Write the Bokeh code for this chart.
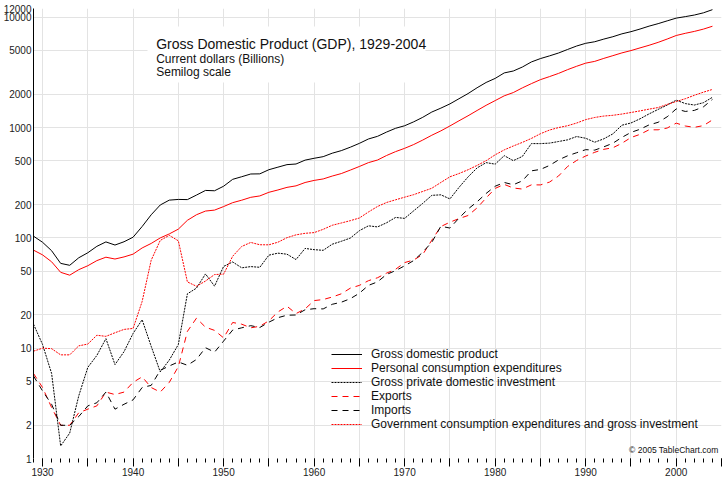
import math
from bokeh.plotting import figure
from bokeh.models import (Range1d, FixedTicker, NumeralTickFormatter, CustomJSTickFormatter,
                          Legend, LegendItem, Label, BoxAnnotation)
from bokeh.embed import file_html
from bokeh.resources import INLINE

# ---------------- data (billions of current dollars) ----------------
years = list(range(1929, 2005))

gdp = [103.6, 91.2, 76.5, 58.7, 56.4, 66.0, 73.3, 83.8, 91.9, 86.1, 92.2,          # 1929-1939
       101.4, 126.7, 161.9, 198.6, 219.8, 223.1, 222.3, 244.2, 269.2, 267.3,       # 1940-1949
       293.8, 339.3, 358.3, 379.3, 380.4, 414.8, 437.5, 461.1, 467.2, 506.6,       # 1950-1959
       526.4, 544.7, 585.6, 617.7, 663.6, 719.1, 787.8, 832.6, 910.0, 984.6,       # 1960-1969
       1038.5, 1127.1, 1238.3, 1382.7, 1500.0, 1638.3, 1825.3, 2030.9, 2294.7, 2563.3,  # 1970-1979
       2789.5, 3128.4, 3255.0, 3536.7, 3933.2, 4220.3, 4462.8, 4739.5, 5103.8, 5484.4,  # 1980-1989
       5803.1, 5995.9, 6337.7, 6657.4, 7072.2, 7397.7, 7816.9, 8304.3, 8747.0, 9268.4,  # 1990-1999
       9817.0, 10128.0, 10469.6, 10960.8, 11712.5]                                  # 2000-2004

pce = [77.4, 70.1, 60.7, 48.7, 45.9, 51.5, 55.9, 62.2, 66.8, 64.3, 67.2,
       71.2, 81.0, 89.0, 99.9, 108.6, 120.0, 144.3, 162.0, 175.0, 178.5,
       192.2, 208.5, 219.5, 233.1, 240.0, 258.8, 271.7, 286.9, 296.2, 317.6,
       331.7, 342.1, 363.3, 382.7, 411.5, 443.8, 480.9, 507.8, 558.0, 605.1,
       648.3, 701.6, 770.2, 852.0, 932.9, 1033.8, 1151.3, 1277.8, 1427.6, 1591.2,
       1755.8, 1939.5, 2075.5, 2288.6, 2501.1, 2717.6, 2896.7, 3097.0, 3350.1, 3594.5,
       3835.5, 3980.1, 4236.9, 4483.6, 4750.8, 4987.3, 5273.6, 5570.6, 5918.5, 6342.8,
       6830.4, 7148.8, 7439.2, 7804.0, 8285.1]

investment = [16.5, 10.8, 5.9, 1.3, 1.7, 3.7, 6.7, 8.6, 12.2, 7.1, 9.3,
              13.6, 18.1, 10.4, 6.1, 7.8, 10.8, 31.1, 35.0, 47.1, 36.5,
              55.1, 60.5, 53.5, 54.9, 54.1, 69.7, 72.7, 71.1, 63.6, 80.2,
              78.2, 77.1, 87.6, 93.1, 99.6, 116.2, 128.6, 125.7, 137.0, 153.2,
              150.2, 176.0, 205.6, 242.9, 245.6, 225.4, 286.6, 356.6, 430.8, 480.9,
              465.9, 556.2, 501.1, 547.1, 715.6, 715.1, 722.5, 747.2, 773.9, 829.2,
              799.7, 736.2, 790.4, 876.2, 1050.0, 1100.0, 1200.0, 1330.0, 1460.0, 1600.0,
              1770.0, 1650.0, 1600.0, 1680.0, 1880.0]

exports = [5.9, 4.4, 2.9, 2.0, 2.0, 2.6, 2.8, 3.0, 4.0, 3.8, 4.0,
           4.9, 5.5, 4.4, 4.0, 4.9, 6.8, 14.2, 18.7, 15.5, 14.5,
           12.4, 17.1, 16.5, 15.3, 15.8, 17.7, 21.3, 24.0, 20.6, 22.7,
           27.0, 27.6, 29.1, 31.1, 35.0, 37.1, 40.9, 43.5, 47.9, 51.9,
           59.7, 63.0, 70.8, 95.3, 126.7, 138.7, 149.5, 159.4, 186.9, 230.1,
           280.8, 305.2, 283.2, 277.0, 302.4, 302.0, 320.3, 363.8, 443.9, 503.1,
           552.1, 596.6, 635.0, 655.6, 720.7, 811.9, 867.7, 954.4, 953.9, 989.8,
           1096.3, 1032.8, 1005.0, 1040.8, 1173.8]

imports = [5.6, 4.1, 3.1, 2.0, 2.0, 2.4, 3.0, 3.2, 4.0, 2.8, 3.1,
           3.4, 4.4, 4.6, 6.3, 6.9, 7.5, 7.0, 7.9, 10.1, 9.2,
           11.6, 14.6, 15.3, 16.0, 15.4, 17.2, 18.9, 19.9, 20.0, 22.3,
           22.8, 22.7, 25.0, 26.1, 28.1, 31.5, 37.1, 39.9, 46.6, 50.5,
           55.8, 62.3, 74.2, 91.2, 127.5, 122.7, 151.1, 182.4, 212.3, 252.7,
           293.8, 317.8, 303.2, 328.6, 405.1, 417.2, 453.3, 509.1, 554.5, 591.5,
           630.3, 624.3, 668.6, 720.9, 814.5, 903.6, 964.8, 1056.9, 1115.9, 1251.7,
           1475.8, 1399.8, 1430.3, 1540.2, 1797.8]

government = [9.4, 10.0, 9.9, 8.7, 8.7, 10.5, 10.9, 13.1, 12.8, 13.8, 14.8,
              15.1, 26.5, 62.7, 94.8, 105.4, 94.0, 39.9, 36.4, 40.6, 46.5,
              46.9, 68.1, 83.6, 90.9, 86.6, 86.5, 91.3, 100.4, 106.5, 110.0,
              111.6, 119.5, 130.1, 136.4, 143.2, 151.4, 171.6, 192.5, 209.3, 221.4,
              233.8, 246.5, 263.5, 281.7, 317.9, 357.7, 383.0, 414.1, 453.6, 500.8,
              566.2, 627.5, 680.5, 733.5, 797.0, 879.0, 949.3, 999.5, 1039.0, 1099.1,
              1180.2, 1234.4, 1271.0, 1291.2, 1325.5, 1369.2, 1416.0, 1468.7, 1518.3, 1620.8,
              1721.6, 1825.6, 1961.1, 2092.5, 2215.9]

series_labels = ["Gross domestic product",
                 "Personal consumption expenditures",
                 "Gross private domestic investment",
                 "Exports",
                 "Imports",
                 "Government consumption expenditures and gross investment"]

y_ticks = [1, 2, 5, 10, 20, 50, 100, 200, 500, 1000, 2000, 5000, 10000, 12000]
x_major = list(range(1930, 2006, 5))
x_minor = list(range(1929, 2006))

title_lines = ["Gross Domestic Product (GDP), 1929-2004",
               "Current dollars (Billions)",
               "Semilog scale"]
credit = "\u00a9 2005 TableChart.com"

# ---------------- layout helpers (page pixel -> data coords) ----------------
FONT = "Liberation Sans"
X_START, X_END = 1929, 2005
Y_MIN, Y_MAX = 1, 12000
FR_LEFT, FR_RIGHT, FR_TOP, FR_BOTTOM = 33.0, 721.0, 8.0, 458.0


def yr(px):
    return X_START + (px - FR_LEFT) * (X_END - X_START) / (FR_RIGHT - FR_LEFT)


def val(py):
    return 10 ** (math.log10(Y_MAX) * (FR_BOTTOM - py) / (FR_BOTTOM - FR_TOP))


p = figure(width=728, height=480, output_backend="svg", toolbar_location=None,
           x_range=Range1d(X_START, X_END), y_range=Range1d(Y_MIN, Y_MAX),
           y_axis_type="log",
           min_border_left=31, min_border_right=7, min_border_top=8, min_border_bottom=22)
p.outline_line_color = None
p.background_fill_color = "white"
p.border_fill_color = "white"

# axes
xa = p.xaxis[0]
xa.ticker = FixedTicker(ticks=x_major, minor_ticks=x_minor)
xa.formatter = CustomJSTickFormatter(code="return (tick % 10 == 0) ? String(tick) : ''")
xa.axis_line_color = None
xa.major_tick_in = 0
xa.major_tick_out = 8
xa.minor_tick_in = 0
xa.minor_tick_out = 4
xa.major_tick_line_color = "black"
xa.minor_tick_line_color = "black"
xa.major_label_standoff = 1
xa.major_label_text_font = FONT
xa.major_label_text_font_size = "10px"
xa.major_label_text_color = "#222222"

ya = p.yaxis[0]
ya.ticker = FixedTicker(ticks=y_ticks, minor_ticks=[])
ya.formatter = NumeralTickFormatter(format="0")
ya.axis_line_color = "black"
ya.axis_line_width = 1
ya.major_tick_line_color = None
ya.minor_tick_line_color = None
ya.major_tick_out = 0
ya.major_tick_in = 0
ya.minor_tick_out = 0
ya.minor_tick_in = 0
ya.major_label_standoff = 2
ya.major_label_text_font = FONT
ya.major_label_text_font_size = "10px"
ya.major_label_text_color = "#222222"

p.grid.grid_line_color = "#e3e3e3"
p.grid.grid_line_width = 1

# series
styles = [
    (gdp, "black", "solid"),
    (pce, "red", "solid"),
    (investment, "black", "2 1"),
    (exports, "red", "6 5"),
    (imports, "black", "6 5"),
    (government, "red", "2 1"),
]
renderers = []
for data, color, dash in styles:
    r = p.line(years, data, line_color=color, line_width=1, line_dash=dash)
    renderers.append(r)

legend = Legend(items=[LegendItem(label=lab, renderers=[r]) for lab, r in zip(series_labels, renderers)],
                location=(331 - FR_LEFT, FR_BOTTOM - 431),
                label_text_font=FONT, label_text_font_size="12px", label_text_color="#111111",
                glyph_width=31, glyph_height=14, label_height=14, label_standoff=9,
                spacing=0, padding=0, margin=0,
                border_line_color=None, background_fill_alpha=0)
p.add_layout(legend)

# white panel behind the title
p.add_layout(BoxAnnotation(left=yr(147), right=yr(425), top=val(26), bottom=val(82),
                           fill_color="white", fill_alpha=1, line_color=None))

title_specs = [(title_lines[0], 43, "14px"), (title_lines[1], 58.7, "12px"), (title_lines[2], 71.7, "12px")]
for txt, py, fs in title_specs:
    p.add_layout(Label(x=yr(155.7), y=val(py), text=txt, text_font=FONT, text_font_size=fs,
                       text_baseline="middle", text_align="left", text_color="#111111"))

p.add_layout(Label(x=yr(718), y=val(449), text=credit, text_font=FONT, text_font_size="8.5px",
                   text_baseline="middle", text_align="right", text_color="#111111"))

open("out.html", "w").write(file_html(p, INLINE))
